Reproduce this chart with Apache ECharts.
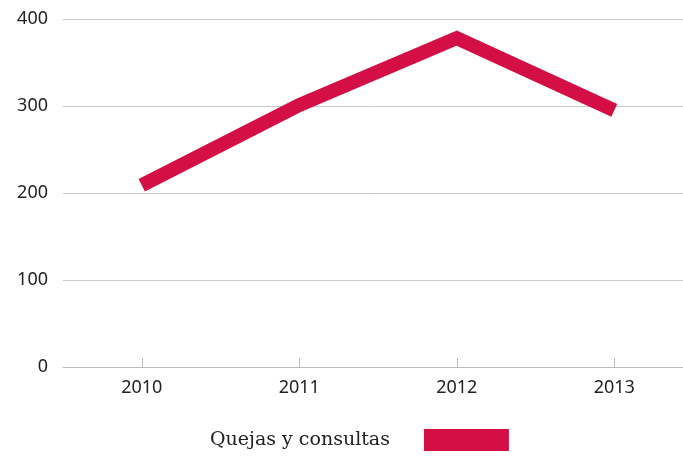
<!DOCTYPE html>
<html><head><meta charset="utf-8">
<script src="https://cdn.jsdelivr.net/npm/echarts@6/dist/echarts.min.js"></script>
<style>html,body{margin:0;padding:0;background:#fff}#c{width:683px;height:456px}</style>
</head><body><div id="c"></div>
<script>
const years = ['2010', '2011', '2012', '2013'];
const quejas = [209, 301, 378, 295];
const seriesName = 'Quejas y consultas';
const yTicks = [0, 100, 200, 300, 400];

const chart = echarts.init(document.getElementById('c'), null, {renderer: 'canvas'});
chart.setOption({
  animation: false,
  grid: {left: 63, width: 630, top: 19, bottom: 89, containLabel: false, outerBoundsMode: 'none'},
  xAxis: {
    type: 'category', data: years, boundaryGap: true,
    axisLine: {lineStyle: {color: '#bdbdbd', width: 1}},
    axisTick: {show: true, inside: true, length: 9, alignWithLabel: true, lineStyle: {color: '#bdbdbd'}},
    axisLabel: {color: '#222', fontSize: 18, fontFamily: 'Noto Sans, sans-serif', margin: 12}
  },
  yAxis: {
    type: 'value', min: yTicks[0], max: yTicks[yTicks.length - 1], interval: 100,
    axisLine: {show: false}, axisTick: {show: false},
    splitLine: {lineStyle: {color: '#c8c8c8', width: 1}},
    axisLabel: {color: '#222', fontSize: 18, fontFamily: 'Noto Sans, sans-serif', margin: 15}
  },
  legend: {
    show: true, left: 210, top: 429, align: 'right', padding: 0,
    itemWidth: 85, itemHeight: 22,
    icon: 'rect',
    textStyle: {color: '#222', fontSize: 19, fontFamily: 'DejaVu Serif, serif', padding: [0, 29, 0, 0]},
    data: [seriesName]
  },
  series: [{
    name: seriesName, type: 'line', data: quejas,
    symbol: 'none',
    lineStyle: {color: '#d30f45', width: 14, cap: 'butt', join: 'miter'},
    itemStyle: {color: '#d30f45'}
  }]
});
</script></body></html>
